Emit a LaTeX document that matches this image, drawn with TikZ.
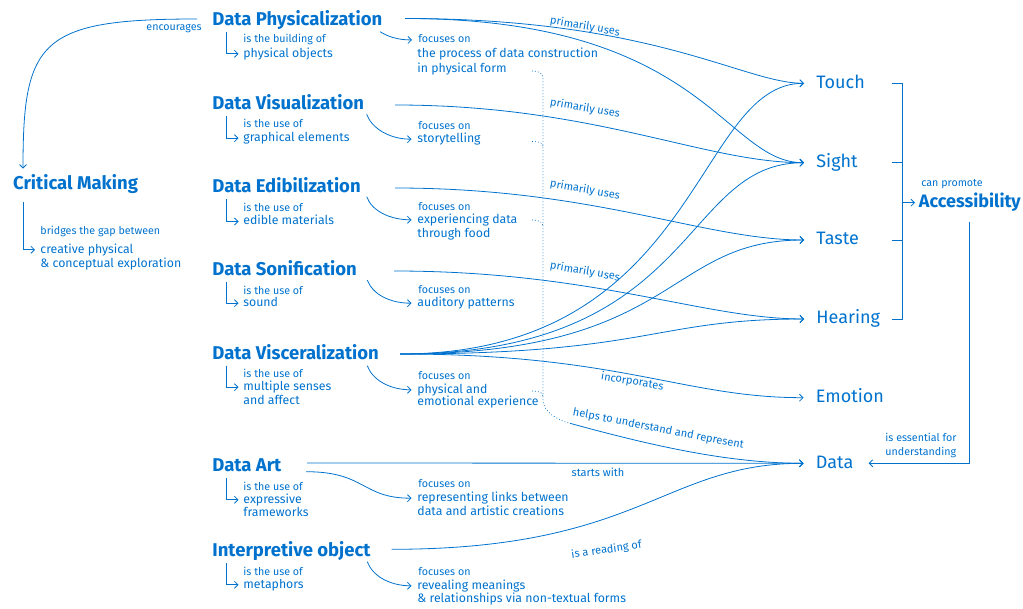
\documentclass[tikz,border=0pt]{standalone}
\usepackage{fontspec}
\setmainfont{Fira Sans}
\usetikzlibrary{arrows.meta}
\definecolor{vizblue}{RGB}{0,114,206}
\tikzset{
    concept/.style={font=\fontsize{18.5}{21}\selectfont\bfseries, inner xsep=0pt, inner ysep=2pt, text height=13pt, text depth=4pt, anchor=base west},
    sense/.style={font=\fontsize{18}{21}\selectfont, inner xsep=12pt, inner ysep=0pt, text height=13pt, text depth=3pt, anchor=base west},
    note/.style={font=\fontsize{10.7}{13}\selectfont, inner sep=0pt, text height=7.5pt, text depth=2pt, anchor=base west},
    detail/.style={font=\fontsize{12.3}{15}\selectfont, inner sep=0pt, text height=9.5pt, text depth=2.5pt, anchor=base west},
    tag/.style={font=\fontsize{11}{13}\selectfont, inner sep=0pt},
    flow/.style 2 args={to path={.. controls +(#1,0) and +(-#2,0) .. (\tikztotarget) \tikztonodes}},
    dots/.style={-, line width=0.7pt, dash pattern=on 0.8pt off 2.2pt}
}

\begin{document}
\begin{tikzpicture}[
        ->, >={Straight Barb[length=3.5pt,width=7pt]}, line width=0.8pt,
        color=vizblue, x=1pt, y=-1pt
    ]
    \useasboundingbox (0,0) rectangle (1023,609);

    % concepts
    \node[concept, inner ysep=8pt] (CM) at (12.7,190) {Critical Making};
    \node[concept] (DP) at (212,25.7) {Data Physicalization};
    \node[concept] (DV) at (212,109.3) {Data Visualization};
    \node[concept] (DE) at (212,192.7) {Data Edibilization};
    \node[concept] (DS) at (212,276) {Data Sonification};
    \node[concept] (DX) at (212,359.3) {Data Visceralization};
    \node[concept] (DA) at (212,471.7) {Data Art};
    \node[concept] (IO) at (212,556.7) {Interpretive object};

    % senses
    \node[sense] (Touch) at (804,88.3) {Touch};
    \node[sense] (Sight) at (804,167.7) {Sight};
    \node[sense] (Taste) at (804,245) {Taste};
    \node[sense] (Hearing) at (804,324) {Hearing};
    \node[sense] (Emotion) at (803.5,402.7) {Emotion};
    \node[sense] (Data) at (803.5,468.3) {Data};
    \node[sense, font=\fontsize{18}{21}\selectfont\bfseries, inner xsep=3.5pt] (Acc) at (915,207.7) {Accessibility};

    % definitions
    \node[note] (CMa) at (40,235) {bridges the gap between};
    \node[detail] (CMb) at (40,253.3) {creative physical};
    \node[detail] (CMc) at (40,267.3) {\& conceptual exploration};
    \node[note] (DPa) at (243,42.7) {is the building of};
    \node[detail] (DPb) at (243,57.3) {physical objects};
    \node[note] (DVa) at (243,127.7) {is the use of};
    \node[detail] (DVb) at (243,141.7) {graphical elements};
    \node[note] (DEa) at (243,211.7) {is the use of};
    \node[detail] (DEb) at (243,225) {edible materials};
    \node[note] (DSa) at (243,295) {is the use of};
    \node[detail] (DSb) at (243,306.7) {sound};
    \node[note] (DXa) at (243,377.7) {is the use of};
    \node[detail] (DXb) at (243,390.7) {multiple senses};
    \node[detail] (DXc) at (243,405) {and affect};
    \node[note] (DAa) at (243,490) {is the use of};
    \node[detail] (DAb) at (243,503.3) {expressive};
    \node[detail] (DAc) at (243,516) {frameworks};
    \node[note] (IOa) at (243,575) {is the use of};
    \node[detail] (IOb) at (243,588.3) {metaphors};

    % focuses
    \node[note] (DPf) at (418,42.7) {focuses on};
    \node[detail] (DPg) at (417,57.3) {the process of data construction};
    \node[detail] (DPh) at (417,72.3) {in physical form};
    \node[note] (DVf) at (418,130) {focuses on};
    \node[detail] (DVg) at (417,142.7) {storytelling};
    \node[note] (DEf) at (418,210.7) {focuses on};
    \node[detail] (DEg) at (417,223.3) {experiencing data};
    \node[detail] (DEh) at (417,237.3) {through food};
    \node[note] (DSf) at (418,294) {focuses on};
    \node[detail] (DSg) at (417,306.7) {auditory patterns};
    \node[note] (DXf) at (418,379.3) {focuses on};
    \node[detail] (DXg) at (417,393.3) {physical and};
    \node[detail] (DXh) at (417,406) {emotional experience};
    \node[note] (DAf) at (418,487.3) {focuses on};
    \node[detail] (DAg) at (417,501.7) {representing links between};
    \node[detail] (DAh) at (417,515) {data and artistic creations};
    \node[note] (IOf) at (418,575) {focuses on};
    \node[detail] (IOg) at (417,589.3) {revealing meanings};
    \node[detail] (IOh) at (417,602.7) {\& relationships via non-textual forms};

    % edge labels
    \node[note, anchor=base east] (enc) at (202,30.7) {encourages};
    \node[tag, rotate=-10] (pu1) at (585,26.7) {primarily uses};
    \node[tag, rotate=-10] (pu2) at (585,108.3) {primarily uses};
    \node[tag, rotate=-10] (pu3) at (585,190) {primarily uses};
    \node[tag, rotate=-10] (pu4) at (585,271.7) {primarily uses};
    \node[tag, rotate=-9.5] (inc) at (632.3,381.7) {incorporates};
    \node[tag, rotate=-11] (hlp) at (658.3,429) {helps to understand and represent};
    \node[tag] (stw) at (598,472.7) {starts with};
    \node[tag, rotate=8] (rdg) at (606.5,550) {is a reading of};
    \node[note] (cpr) at (921,186.7) {can promote};
    \node[note] (ess1) at (885,441.7) {is essential for};
    \node[note] (ess2) at (885,455) {understanding};

    % line ends
    \coordinate (DPo) at (405,18.5);
    \coordinate (DVo) at (395,105);
    \coordinate (DEo) at (395,188);
    \coordinate (DSo) at (394,271);
    \coordinate (DXo) at (400,354);
    \coordinate (DAo) at (307,463);
    \coordinate (IOo) at (391.7,549.3);
    \coordinate (encs) at (197,19);
    \coordinate (tk) at (892,0);
    \coordinate (br) at (902.7,0);
    \coordinate (ad) at (969.3,221.7);
    \coordinate (hp1) at (532,71);
    \coordinate (hp2) at (532,141.5);
    \coordinate (hp3) at (532,220);
    \coordinate (hp4) at (532,391);
    \coordinate (hb) at (570,423.3);

    \path (DPo) edge[flow={250}{60}] (Touch.west)
                edge[flow={300}{80}] (Sight.west)
          (DVo) edge[flow={200}{100}] (Sight.west)
          (DEo) edge[flow={200}{100}] (Taste.west)
          (DSo) edge[flow={200}{100}] (Hearing.west)
          (DXo) edge[flow={300}{110}] (Touch.west)
                edge[flow={300}{125}] (Sight.west)
                edge[flow={280}{140}] (Taste.west)
                edge[flow={250}{150}] (Hearing.west)
                edge[flow={220}{120}] (Emotion.west)
          (DAo) edge (Data.west)
          (IOo) edge[flow={250}{140}] (Data.west);

    % critical making
    \draw (encs) .. controls +(-157,0) and +(0,-128) .. ([xshift=10.3pt]CM.north west);
    \draw ([xshift=10.6pt]CM.south west) |- ([xshift=-5pt]CMb.west);

    % is the ... of
    \draw ([xshift=14.5pt]DP.south west) |- ([xshift=-4.5pt]DPb.west);
    \draw ([xshift=14pt]DV.south west) |- ([xshift=-4.5pt]DVb.west);
    \draw ([xshift=14pt]DE.south west) |- ([xshift=-4.5pt]DEb.west);
    \draw ([xshift=14pt]DS.south west) |- ([xshift=-4.5pt]DSb.west);
    \draw ([xshift=14pt]DX.south west) |- ([xshift=-4.5pt]DXb.west);
    \draw ([xshift=14pt]DA.south west) |- ([xshift=-4.5pt]DAb.west);
    \draw ([xshift=14pt]IO.south west) |- ([xshift=-4.5pt]IOb.west);

    % focuses on
    \draw (380,31.7) .. controls +(8,5) and +(-14,0) .. ([xshift=-6pt]DPf.west);
    \draw (366.7,114.3) .. controls +(5,14) and +(-22,0) .. ([xshift=-5.5pt]DVg.west);
    \draw (366.7,196.7) .. controls +(5,14) and +(-22,0) .. ([xshift=-5.5pt]DEg.west);
    \draw (367.3,280) .. controls +(5,14) and +(-22,0) .. ([xshift=-5.5pt]DSg.west);
    \draw (367.3,365.7) .. controls +(5,14) and +(-22,0) .. ([xshift=-5.5pt]DXg.west);
    \draw (306,471.7) .. controls +(60,0) and +(-50,0) .. ([xshift=-5.5pt]DAg.west);
    \draw (367.3,561.7) .. controls +(5,14) and +(-22,0) .. ([xshift=-5.5pt]IOg.west);

    % dotted gathering line
    \draw[dots] (hp1) .. controls +(8,0) and +(0,-4) .. (543,78) -- (543,400)
        .. controls +(0,12) and +(-12,-3) .. (hb);
    \draw[dots] (hp2) .. controls +(8,0) and +(0,-4) .. (543,147);
    \draw[dots] (hp3) .. controls +(8,0) and +(0,-4) .. (543,226.5);
    \draw[dots] (hp4) .. controls +(8,0) and +(0,-4) .. (543,397);
    \draw (hb) .. controls +(80,22) and +(-75,0) .. (Data.west);

    % accessibility
    \draw[-] (Touch -| tk) -- (Touch -| br) -- (Hearing -| br) -- (Hearing -| tk);
    \draw[-] (Sight -| tk) -- (Sight -| br);
    \draw[-] (Taste -| tk) -- (Taste -| br);
    \draw (Acc -| br) -- (Acc.west);
    \draw (ad) |- ([xshift=3pt]Data.east);
\end{tikzpicture}
\end{document}
